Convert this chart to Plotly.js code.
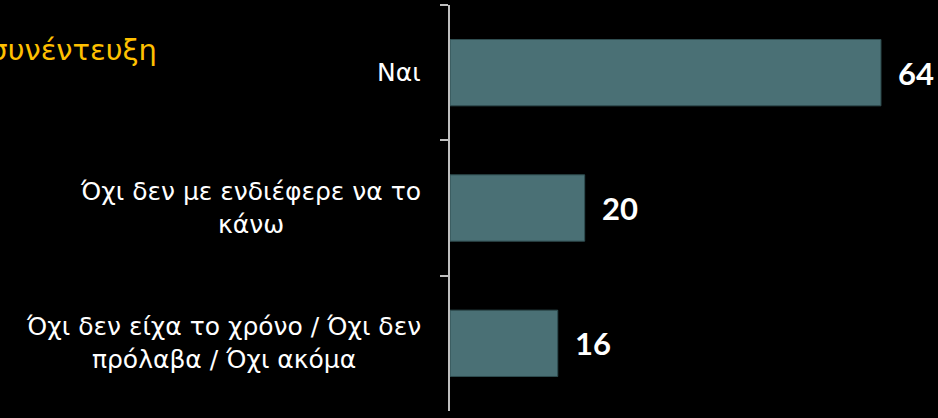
<!DOCTYPE html>
<html>
<head>
<meta charset="utf-8">
<script src="https://cdn.plot.ly/plotly-3.0.1.min.js"></script>
<style>html,body{margin:0;padding:0;background:#000;}#chart{width:938px;height:418px;}</style>
</head>
<body>
<div id="chart"></div>
<script>
const categories = ["Ναι", "Όχι δεν με ενδιέφερε να το<br>κάνω", "Όχι δεν είχα το χρόνο / Όχι δεν<br>πρόλαβα / Όχι ακόμα"];
const values = [64, 20, 16];
const valueLabels = ["64", "20", "16"];
const titleText = "συνέντευξη";

const labelFont = {family: "DejaVu Sans, sans-serif", size: 25, color: "#ffffff"};
const annotations = [];
categories.forEach((c, i) => {
  annotations.push({
    xref: "paper", yref: "y", x: 0, y: c, text: c, showarrow: false,
    xanchor: "right", yanchor: "middle", align: "center", xshift: -27,
    font: labelFont
  });
  annotations.push({
    xref: "x", yref: "y", x: values[i], y: c, text: "<b>" + valueLabels[i] + "</b>",
    showarrow: false, xanchor: "left", yanchor: "middle", xshift: 15,
    font: {family: "Lato, sans-serif", size: 31, color: "#ffffff"}
  });
});

const trace = {
  type: "bar", orientation: "h", x: values, y: categories,
  marker: {color: "#4a7075", line: {color: "#2f4d50", width: 1}},
  hoverinfo: "none"
};

const layout = {
  width: 938, height: 418,
  paper_bgcolor: "#000000", plot_bgcolor: "#000000",
  margin: {l: 450, r: 0, t: 5, b: 7},
  bargap: 0.51,
  showlegend: false,
  title: {
    text: titleText, xref: "container", yref: "container",
    x: 157 / 938, xanchor: "right", y: 1 - 50 / 418, yanchor: "middle",
    font: {family: "DejaVu Sans, sans-serif", size: 29, color: "#ffc000"}
  },
  xaxis: {visible: false, range: [0, 72.47], fixedrange: true},
  yaxis: {
    type: "category", categoryorder: "array", categoryarray: categories,
    autorange: "reversed", showticklabels: false,
    showline: true, linecolor: "#bfbfbf", linewidth: 2,
    ticks: "outside", tickson: "boundaries", ticklen: 8, tickwidth: 2, tickcolor: "#bfbfbf",
    showgrid: false, zeroline: false, fixedrange: true
  },
  annotations: annotations
};

Plotly.newPlot("chart", [trace], layout, {displayModeBar: false, staticPlot: true});
</script>
</body>
</html>
